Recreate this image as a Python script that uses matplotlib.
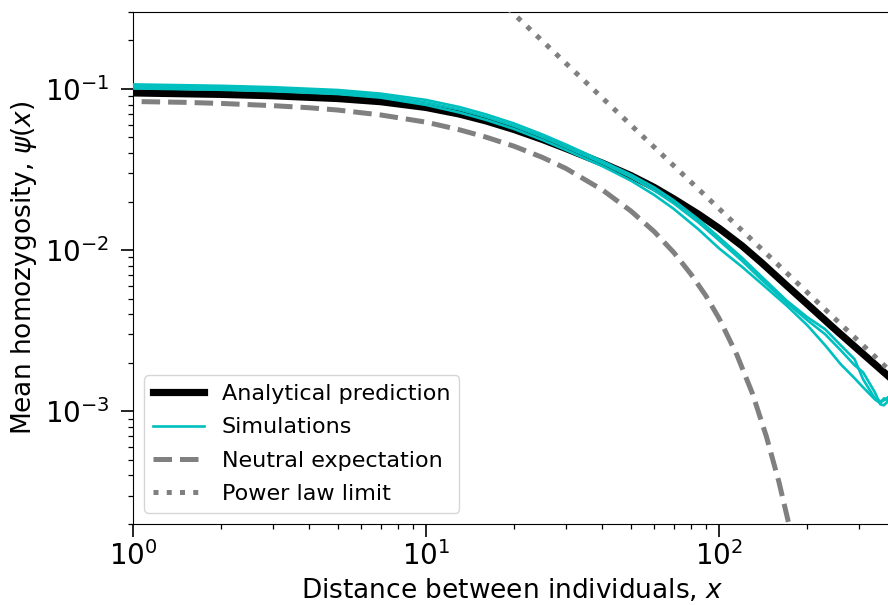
import matplotlib
matplotlib.use("Agg")
import matplotlib.pyplot as plt

# analytical prediction
ana_x = [1, 2, 3, 5, 7, 10, 13, 16, 20, 25, 30, 40, 50, 60, 70, 85, 100, 120, 140, 170,
         200, 250, 300, 377]
ana_y = [0.09445, 0.09252, 0.09071, 0.08717, 0.08334, 0.07674, 0.06983, 0.06337, 0.05596,
         0.04852, 0.0427, 0.0346, 0.0290, 0.0245, 0.0208, 0.0167, 0.01365, 0.0106, 0.00832,
         0.00603, 0.00462, 0.0032, 0.00239, 0.00166]

# three simulation runs
sim_x = [1, 2, 3, 5, 7, 10, 13, 16, 20, 25, 30, 40, 50, 60, 70, 85, 100, 120, 140, 170,
         200, 230, 260, 290, 310, 340, 355, 365, 377]
sim_y1 = [0.10665, 0.10453, 0.10246, 0.09844, 0.09350, 0.08544, 0.07720, 0.06955, 0.06096,
          0.05209, 0.04521, 0.03561, 0.02940, 0.02452, 0.02036, 0.01553, 0.01199, 0.00893,
          0.006816, 0.004864, 0.003836, 0.003231, 0.002570, 0.002103, 0.001580, 0.001204,
          0.001154, 0.001170, 0.001222]
sim_y2 = [0.10364, 0.10159, 0.09957, 0.09566, 0.09086, 0.08244, 0.07448, 0.06710, 0.05883,
          0.05026, 0.04362, 0.03460, 0.02837, 0.02349, 0.01950, 0.01488, 0.01149, 0.008555,
          0.006530, 0.004726, 0.003674, 0.003009, 0.002392, 0.001931, 0.001747, 0.001312,
          0.001105, 0.001090, 0.001154]
sim_y3 = [0.10072, 0.09872, 0.09676, 0.09297, 0.08830, 0.07954, 0.07136, 0.06428, 0.05635,
          0.04815, 0.04180, 0.03315, 0.02698, 0.02202, 0.01803, 0.01346, 0.01025, 0.007853,
          0.006166, 0.004528, 0.003420, 0.002570, 0.001959, 0.001603, 0.001409, 0.001187,
          0.001121, 0.001204, 0.001170]

# neutral expectation
neu_x = [1.07, 1.5, 2, 3, 4, 5, 7, 10, 13, 16, 20, 25, 30, 40, 50, 60, 70, 80, 90, 100,
         115, 130, 145, 160, 175]
neu_y = [0.08338, 0.08255, 0.08126, 0.07874, 0.07641, 0.07394, 0.06895, 0.06221, 0.05579,
         0.05026, 0.04406, 0.03754, 0.03212, 0.02361, 0.01749, 0.01305, 0.009676, 0.007126,
         0.005232, 0.003770, 0.002240, 0.001287, 0.000698, 0.000365, 0.000183]

# power law limit
pl_x = [19, 377]
pl_y = [0.317, 0.00183]

fig = plt.figure(figsize=(8.88, 6.05), dpi=100)
# right edge of the axes sits just outside the picture (cropped like the original)
ax = fig.add_axes([133 / 888, 1 - 524 / 605, 758 / 888, 512 / 605])

ax.loglog(ana_x, ana_y, color='k', lw=5.2, label='Analytical prediction', zorder=2)
ax.loglog(sim_x, sim_y1, color='c', lw=1.9, label='Simulations', zorder=3)
ax.loglog(sim_x, sim_y2, color='c', lw=1.9, zorder=3)
ax.loglog(sim_x, sim_y3, color='c', lw=1.9, zorder=3)
ax.loglog(neu_x, neu_y, color='gray', ls='--', lw=3.6, label='Neutral expectation', zorder=4)
ax.loglog(pl_x, pl_y, color='gray', ls=':', lw=3.6, label='Power law limit', zorder=5)

ax.set_xlim(1, 386)
ax.set_ylim(2e-4, 0.3)
ax.set_xlabel('Distance between individuals, $x$', fontsize=19)
ax.set_ylabel('Mean homozygosity, $\\psi(x)$', fontsize=19)
ax.tick_params(which='major', labelsize=20, length=9, width=1.2)
ax.tick_params(which='minor', length=3.5, width=0.9)
ax.tick_params(axis='y', which='major', pad=8)

ax.legend(loc='lower left', fontsize=16, handlelength=2.3, labelspacing=0.6)

fig.savefig('out.png', dpi=100)
